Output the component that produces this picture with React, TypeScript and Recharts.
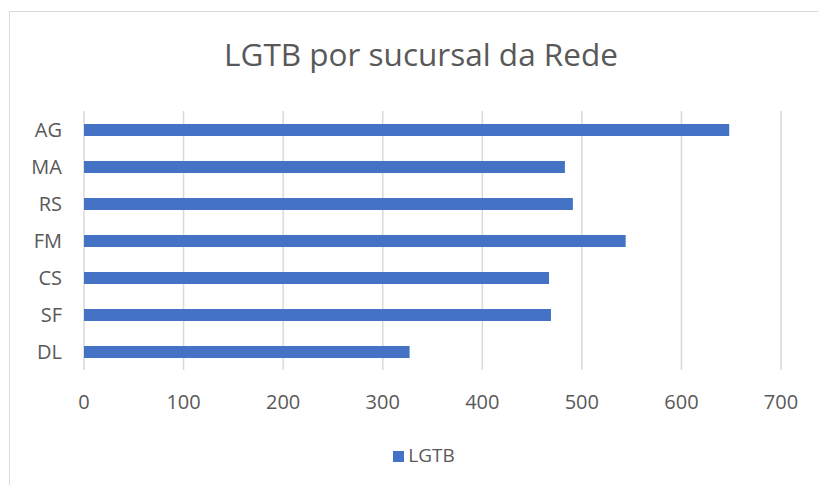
import React from "react";
import { BarChart, Bar, XAxis, YAxis, CartesianGrid, Legend } from "recharts";

const sucursais = ["AG", "MA", "RS", "FM", "CS", "SF", "DL"];
const lgtb = [648, 483, 491, 544, 467, 469, 327];
const xTicks = [0, 100, 200, 300, 400, 500, 600, 700];

const data = sucursais.map((s, i) => ({ sucursal: s, LGTB: lgtb[i] }));

const TEXT = "#595959";
const GRID = "#d9d9d9";
const BLUE = "#4472c4";

export default function App() {
  return (
    <div
      style={{
        position: "absolute", left: 0, top: 0, width: 818, height: 485,
        overflow: "hidden", background: "#fff", fontFamily: "'Open Sans', sans-serif",
      }}
    >
      {/* chart frame, only top and left edges are in view */}
      <div
        style={{
          position: "absolute", left: 9, top: 11, width: 900, height: 600,
          borderTop: `1.5px solid ${GRID}`, borderLeft: `1.5px solid ${GRID}`,
        }}
      />
      <svg width={818} height={485} style={{ position: "absolute", left: 0, top: 0 }}>
        <text x={421} y={66} textAnchor="middle" fontSize={31.5} fill={TEXT}>
          LGTB por sucursal da Rede
        </text>
      </svg>
      <div style={{ position: "absolute", left: 0, top: 0 }}>
        <BarChart
          width={818}
          height={485}
          data={data}
          layout="vertical"
          margin={{ top: 111, right: 37, left: 0, bottom: 20 }}
        >
          <CartesianGrid horizontal={false} stroke={GRID} strokeWidth={1.5} />
          <XAxis
            type="number"
            domain={[0, 700]}
            ticks={xTicks}
            axisLine={false}
            tickLine={false}
            tickSize={0}
            tickMargin={25}
            height={75}
            tick={{ fontSize: 20, fill: TEXT }}
          />
          <YAxis
            type="category"
            dataKey="sucursal"
            width={84}
            axisLine={false}
            tickLine={false}
            tickSize={0}
            tickMargin={22}
            tick={{ fontSize: 20, fill: TEXT }}
          />
          <Legend
            verticalAlign="bottom"
            iconType="square"
            iconSize={11}
            formatter={(v) => <span style={{ color: TEXT, fontSize: 19 }}>{v}</span>}
            wrapperStyle={{ left: 0, width: 858, fontSize: 19, lineHeight: "20px" }}
          />
          <Bar dataKey="LGTB" fill={BLUE} barSize={12} isAnimationActive={false} />
        </BarChart>
      </div>
    </div>
  );
}
